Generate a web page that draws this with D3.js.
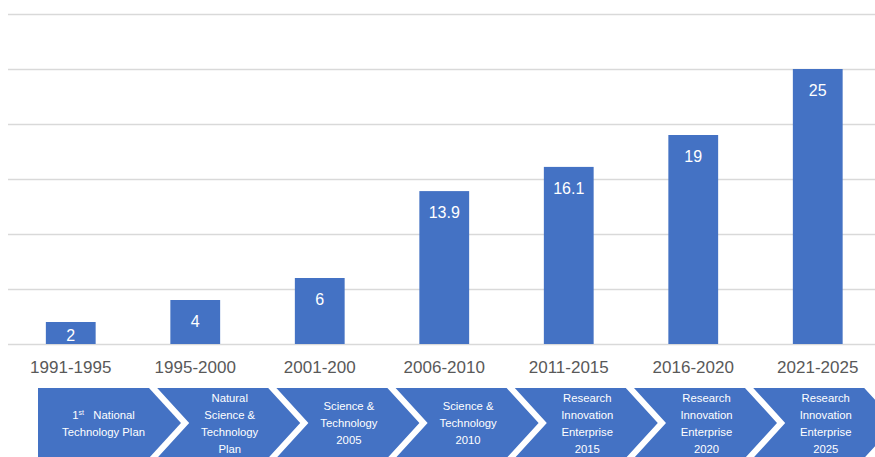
<!DOCTYPE html>
<html>
<head>
<meta charset="utf-8">
<script src="https://cdn.jsdelivr.net/npm/d3@7"></script>
<style>
  body { margin: 0; background: #fff; }
  text { font-family: "Liberation Sans", Arial, sans-serif; }
</style>
</head>
<body>
<script>
w = 875;
h = 457;

periods = ['1991-1995', '1995-2000', '2001-200', '2006-2010', '2011-2015', '2016-2020', '2021-2025'];
values = [2, 4, 6, 13.9, 16.1, 19, 25];
gridTicks = [0, 5, 10, 15, 20, 25, 30];
plans = [
  ['1st National', 'Technology Plan'],
  ['Natural', 'Science &', 'Technology', 'Plan'],
  ['Science &', 'Technology', '2005'],
  ['Science &', 'Technology', '2010'],
  ['Research', 'Innovation', 'Enterprise', '2015'],
  ['Research', 'Innovation', 'Enterprise', '2020'],
  ['Research', 'Innovation', 'Enterprise', '2025']
];

let blue = '#4472C4';

let xScale = d3.scaleBand()
  .domain(periods)
  .range([8.5, 880])
  .paddingInner(0.6)
  .paddingOuter(0.3);

let yScale = d3.scaleLinear()
  .domain([0, 30])
  .range([344, 14]);

svg = d3.select('body')
  .append('svg')
  .attr('width', w)
  .attr('height', h);

// gridlines
svg.selectAll('line.grid')
  .data(gridTicks)
  .enter()
  .append('line')
  .attr('class', 'grid')
  .attr('x1', 8)
  .attr('x2', w)
  .attr('y1', d => Math.round(yScale(d)) + 0.5)
  .attr('y2', d => Math.round(yScale(d)) + 0.5)
  .attr('stroke', '#d9d9d9')
  .attr('stroke-width', 1.3);

svg.selectAll('rect.bar')
  .data(values)
  .enter()
  .append('rect')
  .attr('class', 'bar')
  .attr('x', (d, i) => xScale(periods[i]))
  .attr('y', d => yScale(d))
  .attr('width', xScale.bandwidth())
  .attr('height', d => yScale(0) - yScale(d))
  .attr('fill', blue);

// labels inside end, kept inside short bars
svg.selectAll('text.val')
  .data(values)
  .enter()
  .append('text')
  .attr('class', 'val')
  .text(d => d)
  .attr('x', (d, i) => xScale(periods[i]) + xScale.bandwidth() / 2)
  .attr('y', d => Math.min(yScale(d) + 27, yScale(0) - 3))
  .attr('text-anchor', 'middle')
  .attr('font-size', '16px')
  .attr('fill', '#fff');

// category axis
let xAxis = d3.axisBottom(xScale).tickSize(0).tickPadding(17);
let gx = svg.append('g')
  .attr('transform', `translate(0, ${yScale(0)})`)
  .call(xAxis);
gx.select('.domain').remove();
gx.selectAll('text')
  .attr('font-size', '17px')
  .attr('fill', '#595959')
  .attr('font-family', '"Liberation Sans", Arial, sans-serif');

// chevrons (SmartArt style process)
let chevX = d3.scaleBand()
  .domain(d3.range(plans.length))
  .range([38, 38 + 119.2 * plans.length]);
let chevTop = 388, half = 35, depth = 32, cw = 111;

function chevronPath(i) {
  let L = chevX(i), R = L + cw;
  let p = d3.path();
  p.moveTo(L, chevTop);
  p.lineTo(R, chevTop);
  p.lineTo(R + depth, chevTop + half);
  p.lineTo(R, chevTop + 2 * half);
  p.lineTo(L, chevTop + 2 * half);
  if (i > 0) p.lineTo(L + depth, chevTop + half);
  p.closePath();
  return p.toString();
}

let chev = svg.selectAll('g.chev')
  .data(plans)
  .enter()
  .append('g')
  .attr('class', 'chev');

chev.append('path')
  .attr('d', (d, i) => chevronPath(i))
  .attr('fill', blue);

chev.each(function (lines, i) {
  let cx = i === 0 ? chevX(i) + (cw + depth) / 2 - 6 : chevX(i) + (cw + depth) / 2 + 1;
  let lh = 17;
  let y0 = chevTop + half - (lines.length - 1) * lh / 2 + 4;
  let t = d3.select(this).append('text')
    .attr('text-anchor', 'middle')
    .attr('font-size', '11.3px')
    .attr('fill', '#fff');
  lines.forEach((ln, k) => {
    let ts = t.append('tspan').attr('x', cx).attr('y', y0 + k * lh);
    if (ln === '1st National') {
      ts.append('tspan').text('1');
      ts.append('tspan').text('st').attr('font-size', '7px').attr('dy', -4);
      ts.append('tspan').text('\u00a0\u00a0 National').attr('dy', 4);
    } else {
      ts.text(ln);
    }
  });
});
</script>
</body>
</html>
